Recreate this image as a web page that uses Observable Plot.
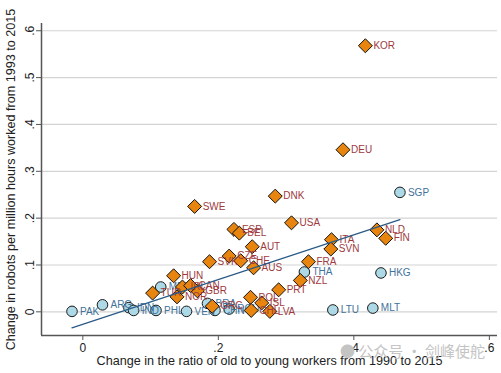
<!DOCTYPE html>
<html><head><meta charset="utf-8">
<script src="https://cdn.jsdelivr.net/npm/d3@7"></script>
<script src="https://cdn.jsdelivr.net/npm/@observablehq/plot@0.6"></script>
<style>
body{margin:0;background:#fff;}
#wrap{position:relative;width:501px;height:373px;}
#wm{position:absolute;left:340px;top:340px;font-family:"Noto Sans CJK SC",sans-serif;font-size:15px;color:#c4c4c4;white-space:nowrap;}
</style>
</head><body><div id="wrap"><div id="chart"></div><div id="wm">● 公众号 · 剑峰使舵</div></div>
<script>
// Developed (orange diamonds)
const devNames = ["KOR","DEU","DNK","SWE","USA","ESP","BEL","AUT","NLD","FIN","ITA","SVN","SVK","CZE","CHE","AUS","FRA","NZL","PRT","HUN","GBR","TUR","NOR","IRL","CAN","GRC","POL","ISL","CHL","LVA"];
const devX = [0.417,0.384,0.284,0.165,0.308,0.223,0.231,0.250,0.434,0.447,0.367,0.366,0.187,0.216,0.233,0.252,0.333,0.321,0.289,0.134,0.169,0.103,0.139,0.147,0.159,0.191,0.2475,0.264,0.2485,0.276];
const devY = [0.568,0.346,0.247,0.225,0.190,0.176,0.168,0.139,0.175,0.157,0.154,0.134,0.107,0.119,0.109,0.094,0.107,0.067,0.047,0.077,0.045,0.040,0.032,0.053,0.056,0.012,0.031,0.019,0.003,0.001];
// Emerging (light-blue circles)
const emgNames = ["PAK","ARG","IDN","IND","MEX","PHL","VEN","BRA","CHN","ROU","THA","LTU","MLT","HKG","SGP"];
const emgX = [-0.016,0.029,0.068,0.075,0.115,0.108,0.153,0.184,0.195,0.216,0.327,0.369,0.428,0.440,0.468];
const emgY = [0.001,0.015,0.009,0.003,0.053,0.003,0.001,0.018,0.003,0.006,0.085,0.004,0.008,0.083,0.255];
// Fitted line end points
const fitX = [-0.016,0.468];
const fitY = [-0.034,0.197];
const xTicks = [0,0.2,0.4,0.6];
const yTicks = [0,0.1,0.2,0.3,0.4,0.5,0.6];

const dev = devNames.map((n,i)=>({name:n,x:devX[i],y:devY[i]}));
const emg = emgNames.map((n,i)=>({name:n,x:emgX[i],y:emgY[i]}));
const fit = fitX.map((x,i)=>({x,y:fitY[i]}));
const fmt = v => v === 0 ? "0" : d3.format(".1f")(v).replace(/^0/,"");
const xd = [-0.061,0.612], yd = [-0.0505,0.6155];

const chart = Plot.plot({
  width: 501, height: 373,
  marginLeft: 41, marginRight: 4, marginTop: 23, marginBottom: 38,
  style: {fontFamily: "Liberation Sans", fontSize: "12px", background: "white", color: "#222"},
  x: {domain: xd},
  y: {domain: yd},
  marks: [
    Plot.gridY(yTicks, {stroke: "#d4d4d4", strokeOpacity: 1, strokeWidth: 1.2}),
    Plot.ruleX([xd[0]], {stroke: "#555", strokeWidth: 1.5}),
    Plot.ruleY([yd[0]], {stroke: "#555", strokeWidth: 1.5}),
    Plot.axisY(yTicks, {tickFormat: fmt, tickSize: 5, tickRotate: -90, tickPadding: 3, fontSize: 12, label: null, stroke: "#555"}),
    Plot.axisX(xTicks, {tickFormat: fmt, tickSize: 5, tickPadding: 3, fontSize: 12, label: null, stroke: "#555"}),
    Plot.text(["Change in the ratio of old to young workers from 1990 to 2015"], {frameAnchor: "bottom", dy: 29, fontSize: 12.6, fill: "#222"}),
    Plot.text(["Change in robots per million hours worked from 1993 to 2015"], {frameAnchor: "left", dx: -31, rotate: -90, textAnchor: "middle", fontSize: 12.6, fill: "#222"}),
    Plot.dot(emg, {x: "x", y: "y", r: 5.3, fill: "#add8e6", stroke: "#1a1a1a", strokeWidth: 1}),
    Plot.text(emg, {x: "x", y: "y", text: "name", dx: 8, textAnchor: "start", fontSize: 10, fill: "#41729a"}),
    Plot.dot(dev, {x: "x", y: "y", r: 6.3, symbol: "diamond2", fill: "#e8850e", stroke: "#111", strokeWidth: 1}),
    Plot.text(dev, {x: "x", y: "y", text: "name", dx: 8, textAnchor: "start", fontSize: 10, fill: "#9e3a3e"}),
    Plot.line(fit, {x: "x", y: "y", stroke: "#2a5b86", strokeWidth: 1.3})
  ]
});
document.getElementById("chart").appendChild(chart);
</script>
</body></html>
